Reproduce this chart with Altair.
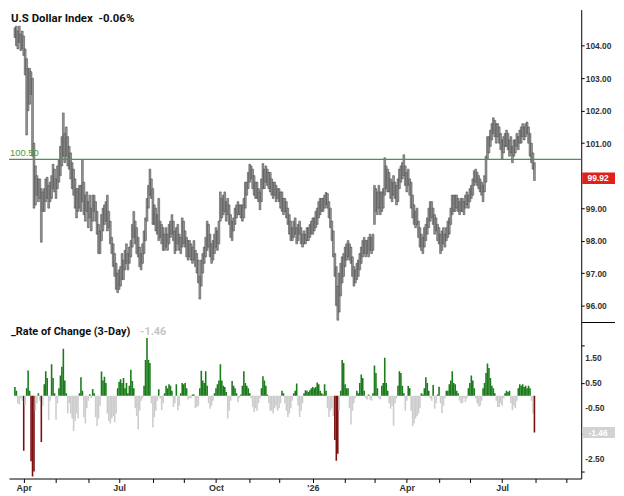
import altair as alt
import pandas as pd

start_date = "2025-03-24"

low = [
    104.25, 104.0, 103.9, 104.1, 103.85,
    103.9, 103.7, 103.1, 101.25, 102.0,
    102.2, 102.5, 100.6, 99.0, 99.1,
    99.4, 99.2, 99.3, 97.95, 98.9,
    98.9, 99.2, 99.3, 99.0, 99.2,
    99.3, 99.6, 99.5, 99.3, 99.6,
    99.8, 100.0, 100.3, 100.6, 100.4,
    100.6, 100.3, 100.2, 99.9, 99.6,
    99.4, 99.0, 98.7, 98.9, 99.0,
    98.9, 99.2, 98.8, 98.6, 98.9,
    98.4, 98.7, 98.3, 98.6, 98.9,
    98.6, 98.2, 97.6, 97.6, 98.0,
    98.3, 98.5, 98.6, 98.3, 98.4,
    97.9, 97.6, 97.2, 96.9, 96.5,
    96.4, 96.5, 96.6, 96.8, 96.8,
    97.1, 97.3, 97.1, 97.3, 97.5,
    97.8, 98.1, 97.9, 97.6, 97.5,
    97.2, 97.1, 97.3, 97.6, 98.0,
    98.6, 99.0, 99.4, 99.3, 98.5,
    98.5, 98.3, 98.2, 98.0, 98.1,
    97.9, 97.7, 97.7, 97.8, 97.7,
    97.9, 98.1, 98.2, 98.0, 97.6,
    97.7, 97.9, 97.7, 97.6, 97.8,
    97.9, 97.8, 97.5, 97.4, 97.5,
    97.4, 97.3, 97.4, 97.2, 97.0,
    96.7, 96.2, 96.6, 97.0, 97.3,
    97.5, 97.7, 97.8, 97.5, 97.3,
    97.4, 97.6, 97.8, 97.7, 97.9,
    98.6, 98.7, 98.8, 98.9, 98.6,
    98.8, 98.5, 98.1, 98.0, 98.3,
    98.5, 98.7, 98.8, 98.8, 98.7,
    98.6, 98.7, 99.0, 99.4, 99.6,
    99.8, 99.9, 99.6, 99.4, 99.3,
    99.3, 99.2, 98.95, 99.2, 99.6,
    99.6, 99.8, 99.7, 99.6, 99.5,
    99.4, 99.3, 99.4, 99.2, 99.3,
    99.2, 99.0, 98.9, 98.8, 98.9,
    98.7, 98.5, 98.2, 98.0, 98.0,
    98.1, 98.2, 97.9, 98.0, 98.2,
    97.9, 97.8, 97.9, 97.9, 98.0,
    98.0, 98.1, 98.2, 98.2, 98.3,
    98.4, 98.5, 98.7, 98.8, 98.9,
    98.9, 99.0, 99.1, 99.0, 98.7,
    98.4, 98.0, 97.5, 96.9, 96.0,
    95.55, 95.8, 96.3, 96.7, 96.9,
    97.2, 97.4, 97.5, 97.4, 97.3,
    96.9, 96.6, 96.7, 96.8, 96.9,
    97.1, 97.3, 97.5, 97.6, 97.5,
    97.6, 97.5, 97.7, 97.6, 97.7,
    98.5, 98.9, 98.8, 99.0, 98.8,
    98.9, 99.0, 99.4, 99.6, 99.5,
    99.5, 99.3, 99.2, 99.4, 99.3,
    99.1, 99.2, 99.6, 99.8, 99.9,
    100.0, 99.7, 99.5, 99.7, 99.4,
    99.0, 98.7, 98.5, 98.4, 98.5,
    98.1, 97.8, 97.7, 97.6, 97.8,
    98.0, 98.2, 98.4, 98.6, 98.7,
    98.5, 98.2, 98.3, 98.0, 97.9,
    97.6, 97.7, 97.9, 97.8, 98.0,
    98.1, 98.2, 98.5, 98.8, 98.9,
    98.9, 99.0, 98.9, 98.8, 98.9,
    98.9, 98.8, 99.0, 99.1, 99.0,
    99.2, 99.3, 99.4, 99.7, 99.8,
    99.7, 99.6, 99.5, 99.4, 99.2,
    99.5, 99.8, 100.5, 100.7, 100.9,
    101.1, 101.3, 101.2, 101.0, 101.2,
    101.0, 100.8, 100.5, 100.7, 100.9,
    100.9, 100.8, 100.6, 100.7, 100.4,
    100.6, 100.7, 100.9, 100.8, 101.0,
    101.0, 101.2, 101.1, 101.2, 101.3,
    101.0, 100.6, 100.4, 100.2, 99.85,
]

high = [
    104.55, 104.6, 104.45, 104.6, 104.35,
    104.45, 104.3, 103.9, 103.6, 103.3,
    103.3, 103.2, 103.0, 101.0, 100.3,
    100.0, 99.9, 99.9, 99.6, 99.5,
    99.6, 99.9, 99.95, 99.7, 99.8,
    100.0, 100.35, 100.2, 99.9, 100.3,
    100.5, 100.9, 101.2, 101.93, 101.3,
    101.5, 101.2, 100.9, 100.7, 100.4,
    100.2, 99.9, 99.6, 99.6, 99.7,
    99.7, 100.5, 99.8, 99.4, 99.5,
    99.2, 99.4, 99.0, 99.4, 99.4,
    99.2, 98.9, 98.5, 98.3, 98.8,
    99.0, 99.1, 99.2, 99.4, 98.9,
    98.6, 98.1, 97.9, 97.6, 97.3,
    97.0, 97.1, 97.2, 97.6, 97.4,
    97.7, 97.9, 97.6, 97.8, 98.0,
    98.5, 98.9, 98.6, 98.4, 98.1,
    97.8, 97.6, 97.9, 98.3, 98.7,
    99.3, 99.7, 100.2, 99.9, 99.6,
    99.1, 99.0, 98.8, 99.3, 98.6,
    98.5, 98.4, 98.2, 98.4, 98.2,
    98.5, 98.6, 98.8, 98.6, 98.3,
    98.4, 98.5, 98.2, 98.1, 98.7,
    98.6, 98.3, 98.1, 98.0, 98.0,
    97.9, 97.8, 98.0, 97.7, 97.6,
    97.4, 96.9, 97.4, 97.6, 97.8,
    98.1, 98.6, 98.5, 98.2, 97.9,
    98.0, 98.2, 98.4, 98.3, 98.6,
    99.5, 99.3, 99.4, 99.5, 99.2,
    99.3, 99.1, 98.8, 98.6, 98.7,
    99.0, 99.1, 99.2, 99.1, 99.1,
    99.1, 99.3, 99.8, 99.8, 100.1,
    100.35, 100.3, 100.2, 100.0, 99.8,
    99.8, 99.6, 99.5, 99.9, 100.37,
    100.2, 100.3, 100.2, 100.1, 100.1,
    99.9, 99.8, 99.8, 99.7, 99.6,
    99.6, 99.5, 99.5, 99.3, 99.3,
    99.2, 99.0, 98.8, 98.6, 98.4,
    98.6, 98.7, 98.4, 98.5, 98.6,
    98.4, 98.2, 98.3, 98.2, 98.4,
    98.4, 98.5, 98.6, 98.7, 98.7,
    98.9, 99.0, 99.2, 99.3, 99.3,
    99.3, 99.4, 99.48, 99.45, 99.2,
    99.0, 98.6, 98.3, 97.6, 97.2,
    96.6, 97.0, 97.3, 97.5, 97.6,
    97.8, 97.9, 98.0, 97.9, 97.8,
    97.5, 97.2, 97.1, 97.3, 97.4,
    97.6, 97.8, 98.0, 98.1, 98.0,
    98.0, 98.1, 98.2, 98.1, 98.2,
    99.7, 99.6, 99.5, 99.7, 99.5,
    99.5, 99.6, 100.55, 100.3, 100.2,
    100.1, 99.9, 99.8, 100.0, 99.8,
    99.7, 99.9, 100.2, 100.3, 100.4,
    100.64, 100.3, 100.1, 100.2, 99.9,
    99.8, 99.4, 99.1, 98.9, 99.0,
    98.6, 98.4, 98.2, 98.1, 98.4,
    98.5, 98.7, 99.0, 99.2, 99.2,
    99.0, 98.8, 98.7, 98.5, 98.4,
    98.2, 98.3, 98.4, 98.2, 98.4,
    98.6, 98.7, 99.0, 99.4, 99.4,
    99.4, 99.4, 99.3, 99.2, 99.3,
    99.3, 99.2, 99.4, 99.5, 99.4,
    99.6, 99.7, 99.9, 100.15, 100.2,
    100.1, 100.0, 99.9, 99.8, 99.7,
    100.0, 100.6, 101.2, 101.2, 101.4,
    101.6, 101.78, 101.7, 101.6, 101.6,
    101.5, 101.3, 101.1, 101.2, 101.3,
    101.4, 101.3, 101.1, 101.2, 100.9,
    101.1, 101.1, 101.3, 101.2, 101.4,
    101.5, 101.6, 101.5, 101.6, 101.65,
    101.5, 101.3, 101.0, 100.7, 100.4,
]

roc = [
    0.35, 0.2, -0.3, -0.35, -0.1,
    -0.2, -2.18, -0.4, 0.3, 1.0,
    0.2, -2.6, -3.2, -3.0, -0.6,
    -0.3, 0.1, -0.2, -1.83, -0.4,
    0.45, 0.97, 0.7, -0.97, -0.2,
    1.25, 0.7, 0.1, -0.95, -0.3,
    0.3, 0.8, 1.15, 1.86, 0.6,
    0.1, -0.7, -0.3, -0.7, -0.9,
    -1.4, -1.0, -0.7, -0.9, 0.1,
    0.73, 0.2, -0.85, -1.1, -0.5,
    -0.2, 0.06, -0.1, 0.27, 0.1,
    -0.85, -1.2, -0.9, -0.4, 0.96,
    0.6, 0.75, 0.5, -0.7, -1.0,
    -1.1, -0.9, -0.8, -1.05, -0.7,
    0.3, 0.55, 0.65, 0.5, 0.7,
    0.3, 0.5, 0.1, 0.4, 1.03,
    0.58, 0.3, -0.5, -0.8, -1.33,
    -0.6, -0.2, -0.1, 0.4, 1.42,
    2.29, 1.42, 1.3, -0.3, -1.26,
    -0.85, -0.6, -0.2, 0.26, -0.1,
    -0.58, -0.3, 0.1, 0.4, 0.3,
    0.45, 0.4, 0.2, -0.45, -0.3,
    0.45, -0.58, -0.4, 0.1, 0.5,
    0.45, 0.5, 0.3, -0.15, -0.1,
    -0.1, 0.05, 0.05, -0.5, -0.45,
    -0.4, 0.3, 0.99, 0.6, 0.5,
    0.97, 0.4, -0.3, -0.52, -0.4,
    -0.2, 0.1, 0.3, 0.45, 0.6,
    1.25, 0.6, 0.4, 0.35, 0.15,
    -0.9, -0.6, -0.2, 0.58, 0.4,
    0.3, 0.1, -0.26, -0.1, 0.05,
    0.4, 0.97, 0.5, 0.4, 0.3,
    0.1, -0.1, -0.45, -0.65, -0.5,
    -0.6, -0.3, -0.1, 0.3, 0.77,
    0.6, 0.4, 0.05, -0.3, -0.6,
    -0.6, -0.7, -0.5, -0.4, -0.6,
    -0.5, -0.3, 0.2, 0.1, -0.3,
    -0.6, -0.84, -0.7, -0.5, -0.2,
    0.1, 0.2, 0.48, -0.4, -0.84,
    -0.6, -0.3, 0.1, 0.22, 0.2,
    0.15, 0.22, 0.3, 0.35, 0.3,
    0.35, 0.52, 0.45, 0.2, 0.1,
    0.05, 0.45, 0.2, -0.5, -0.84,
    -0.6, -0.5, -0.8, -1.75, -2.58,
    -2.3, -0.6, 0.2, 1.42, 1.3,
    0.45, 0.3, 0.3, -0.5, -1.14,
    -0.6, -0.3, -0.1, 0.2, 0.1,
    0.5, 0.84, 0.7, 0.2, -0.1,
    -0.15, 0.05, -0.15, -0.2, 0.1,
    1.2, 0.9, 0.3, -0.1, -0.15,
    0.4, 0.5, 1.5, 0.5, 0.2,
    -0.3, -0.52, -0.4, -1.19, -0.3,
    -0.1, 0.4, 0.97, 0.9, 0.4,
    0.1, -0.6, -0.2, 0.39, 0.3,
    -0.6, -1.2, -1.1, -0.9, -0.8,
    -0.7, -0.5, 0.1, 0.05, 0.3,
    0.73, 0.5, 0.2, -0.1, -0.2,
    0.42, -0.52, -0.3, 0.05, 0.36,
    -0.3, -0.68, -0.4, -0.1, 0.2,
    0.2, 0.45, 0.6, 0.97, 0.5,
    0.45, 0.2, 0.1, -0.2, -0.3,
    -0.3, -0.1, -0.25, -0.1, 0.3,
    0.5, 0.8, 0.6, 0.3, -0.1,
    -0.3, -0.43, -0.4, -0.2, 0.3,
    0.5, 0.9, 1.28, 1.1, 0.7,
    0.4, 0.3, 0.1, -0.2, -0.45,
    -0.45, -0.3, -0.4, -0.1, 0.1,
    0.2, 0.15, 0.2, -0.3, -0.58,
    -0.4, -0.5, -0.2, 0.3, 0.45,
    0.4, 0.45, 0.35, 0.4, 0.3,
    0.4, 0.3, -0.2, -0.7, -1.46,
]

price_ticks = [96, 97, 98, 99, 101, 102, 103, 104]
roc_ticks = [2.0, 1.5, 0.5, -0.5, -1.5, -2.5, -3.0]
roc_labels = [1.5, 0.5, -0.5, -2.5]
quarter_labels = {1: "'26", 4: "Apr", 7: "Jul", 10: "Oct"}
last_price = 99.92
last_roc = -1.46
level = 100.50
title_top = "U.S Dollar Index\u00a0\u00a0-0.06%"
title_bottom = "_Rate of Change (3-Day)"

W = 576
H1 = 314
H2 = 157
X_DOMAIN = [-0.65, 382.5]

n = len(low)
all_days = pd.bdate_range(start_date, periods=400)
df = pd.DataFrame({
    "i": list(range(n)),
    "date": all_days[:n].strftime("%Y-%m-%d"),
    "low": low,
    "high": high,
    "roc": roc,
})
df["kind"] = ["big" if r <= -1.45 else ("pos" if r >= 0 else "neg") for r in roc]

tick_idx = []
tick_lab = {}
for k in range(1, 383):
    if all_days[k].month != all_days[k - 1].month:
        tick_idx.append(k)
        tick_lab[k] = quarter_labels.get(all_days[k].month, "")
expr = "''"
for k, lab in tick_lab.items():
    if lab:
        expr = f'datum.value == {k} ? "{lab}" : ({expr})'

FONT = "Liberation Sans"
xscale = alt.Scale(domain=X_DOMAIN, nice=False, zero=False)
pscale = alt.Scale(domain=[95.51, 105.11], nice=False, zero=False)
rscale = alt.Scale(domain=[-3.28, 2.9], nice=False, zero=False)

base = alt.Chart(df)

bars = base.mark_bar(width=1.8, fill="#9a9a9a", stroke="#3a3a3a", strokeWidth=0.5, clip=True).encode(
    x=alt.X("i:Q", scale=xscale, axis=None),
    y=alt.Y("low:Q", scale=pscale,
            axis=alt.Axis(orient="right", values=price_ticks, format=".2f", title=None,
                          grid=False, domainColor="#000", tickColor="#000", tickSize=3,
                          labelFont=FONT, labelFontSize=8.5, labelFontWeight="bold",
                          labelColor="#333", labelPadding=1, labelOverlap=False)),
    y2="high:Q",
)

level_rule = alt.Chart(pd.DataFrame({"k": [0]})).mark_rule(color="#4f9150", strokeWidth=1.1).encode(
    y=alt.datum(level), x=alt.value(0), x2=alt.value(W)
)
level_text = alt.Chart(pd.DataFrame({"t": [f"{level:.2f}"]})).mark_text(
    align="left", baseline="bottom", dx=1, dy=-1, font=FONT, fontSize=9.5, color="#4a9a40"
).encode(y=alt.datum(level), x=alt.value(0), text="t:N")

price_box = alt.Chart(pd.DataFrame({"k": [0]})).mark_rect(color="#e0201c").encode(
    y=alt.datum(last_price + 0.18), y2=alt.datum(last_price - 0.18),
    x=alt.value(W + 1), x2=alt.value(W + 34)
)
price_lab = alt.Chart(pd.DataFrame({"t": [f"{last_price:.2f}"]})).mark_text(
    align="center", baseline="middle", font=FONT, fontSize=8.5, fontWeight="bold", color="#ffffff"
).encode(y=alt.datum(last_price), x=alt.value(W + 17), text="t:N")

top_title = alt.Chart(pd.DataFrame({"t": [title_top]})).mark_text(
    align="left", baseline="top", font="Roboto", fontSize=11.5, fontWeight="bold", color="#111"
).encode(x=alt.value(2), y=alt.value(3), text="t:N")

top = alt.layer(bars, level_rule, level_text, price_box, price_lab, top_title).properties(
    width=W, height=H1
)

roc_bars = base.mark_bar(width=1.6, clip=True).encode(
    x=alt.X("i:Q", scale=xscale,
            axis=alt.Axis(values=tick_idx, labelExpr=expr, title=None, grid=False,
                          domainColor="#000", tickColor="#000", tickSize=4,
                          labelFont=FONT, labelFontSize=9, labelFontWeight="bold",
                          labelColor="#333", labelPadding=1, labelFlush=False,
                          labelOverlap=False)),
    y=alt.Y("roc:Q", scale=rscale,
            axis=alt.Axis(orient="right", values=roc_ticks, title=None, grid=False,
                          labels=False, domainColor="#000", tickColor="#000", tickSize=3)),
    y2=alt.datum(0),
    color=alt.Color("kind:N", scale=alt.Scale(domain=["pos", "neg", "big"],
                                              range=["#1c7c1c", "#cdcdcd", "#7c1010"]),
                    legend=None),
)

roc_axis_text = alt.Chart(pd.DataFrame({"v": roc_labels,
                                        "t": [f"{v:.2f}" for v in roc_labels]})).mark_text(
    align="left", baseline="middle", font=FONT, fontSize=8.5, fontWeight="bold", color="#333"
).encode(y=alt.Y("v:Q", scale=rscale), x=alt.value(W + 4), text="t:N")

roc_box = alt.Chart(pd.DataFrame({"k": [0]})).mark_rect(color="#d2d2d2").encode(
    y=alt.datum(last_roc + 0.22), y2=alt.datum(last_roc - 0.22),
    x=alt.value(W + 1), x2=alt.value(W + 34)
)
roc_lab = alt.Chart(pd.DataFrame({"t": [f"{last_roc:.2f}"]})).mark_text(
    align="center", baseline="middle", font=FONT, fontSize=8.5, fontWeight="bold", color="#ffffff"
).encode(y=alt.datum(last_roc), x=alt.value(W + 17), text="t:N")

sep = alt.Chart(pd.DataFrame({"k": [0]})).mark_rule(color="#000", strokeWidth=1).encode(
    x=alt.value(W), x2=alt.value(W + 34), y=alt.value(0)
)

bot_title = alt.Chart(pd.DataFrame({"t": [title_bottom]})).mark_text(
    align="left", baseline="top", font="Roboto", fontSize=11, fontWeight="bold", color="#111"
).encode(x=alt.value(2), y=alt.value(4), text="t:N")
bot_val = alt.Chart(pd.DataFrame({"t": [f"{last_roc:.2f}"]})).mark_text(
    align="left", baseline="top", font="Roboto", fontSize=11, fontWeight="bold", color="#c6c6c6"
).encode(x=alt.value(132), y=alt.value(4), text="t:N")

bottom = alt.layer(roc_bars, roc_axis_text, roc_box, roc_lab, sep, bot_title, bot_val).properties(
    width=W, height=H2
)

chart = alt.vconcat(top, bottom, spacing=0).properties(
    padding={"left": 0, "top": 0, "right": 0, "bottom": 0}
).configure_view(strokeWidth=0, stroke="transparent")

chart.save("out.html", embed_options={"renderer": "svg", "actions": False})
